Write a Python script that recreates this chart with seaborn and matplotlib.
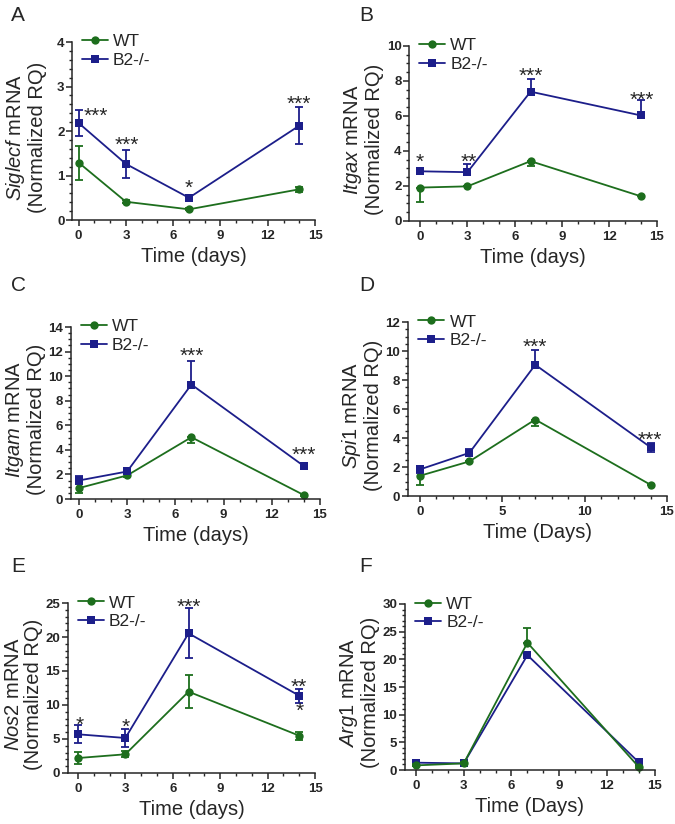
import matplotlib
matplotlib.use("Agg")
import matplotlib.pyplot as plt
import seaborn as sns
from matplotlib.ticker import MultipleLocator

sns.set_style("ticks")
plt.rcParams['font.family'] = ['Liberation Sans', 'DejaVu Sans']
plt.rcParams['mathtext.fontset'] = 'custom'
plt.rcParams['mathtext.rm'] = 'Liberation Sans'
plt.rcParams['mathtext.it'] = 'Liberation Sans:italic'

GREEN = '#1d6e1d'
BLUE = '#1c1e8a'
FIG_W, FIG_H = 675, 824

days = [0, 3, 7, 14]
groups = ['WT', 'B2-/-']

# A - Siglecf
siglecf_wt = [1.29, 0.41, 0.24, 0.69]
siglecf_wt_lo = [0.38, 0.03, 0.02, 0.06]
siglecf_wt_hi = [0.38, 0.03, 0.02, 0.06]
siglecf_ko = [2.18, 1.26, 0.50, 2.12]
siglecf_ko_lo = [0.30, 0.31, 0.06, 0.41]
siglecf_ko_hi = [0.30, 0.31, 0.06, 0.41]
siglecf_stars = ['***', '***', '*', '***']
siglecf_star_x = [1.1, 3.05, 7.0, 14.0]
siglecf_star_y = [2.48, 1.82, 0.86, 2.74]

# B - Itgax
itgax_wt = [1.91, 1.98, 3.42, 1.41]
itgax_wt_lo = [0.84, 0.0, 0.27, 0.0]
itgax_wt_hi = [0.0, 0.0, 0.0, 0.0]
itgax_ko = [2.84, 2.79, 7.39, 6.03]
itgax_ko_lo = [0.0, 0.0, 0.0, 0.0]
itgax_ko_hi = [0.0, 0.47, 0.75, 0.86]
itgax_stars = ['*', '**', '***', '***']
itgax_star_x = [0.0, 3.1, 7.0, 14.05]
itgax_star_y = [3.70, 3.70, 8.63, 7.25]

# C - Itgam
itgam_wt = [0.89, 1.92, 5.03, 0.32]
itgam_wt_lo = [0.36, 0.1, 0.43, 0.05]
itgam_wt_hi = [0.36, 0.1, 0.0, 0.05]
itgam_ko = [1.51, 2.24, 9.32, 2.68]
itgam_ko_lo = [0.3, 0.1, 0.0, 0.1]
itgam_ko_hi = [0.33, 0.1, 1.92, 0.1]
itgam_stars = ['***', '***']
itgam_star_x = [7.04, 14.0]
itgam_star_y = [12.19, 4.08]

# D - Spi1
spi1_wt = [1.40, 2.39, 5.28, 0.78]
spi1_wt_lo = [0.62, 0.05, 0.44, 0.05]
spi1_wt_hi = [0.62, 0.05, 0.0, 0.05]
spi1_ko = [1.84, 2.98, 9.06, 3.37]
spi1_ko_lo = [0.23, 0.2, 0.0, 0.3]
spi1_ko_hi = [0.23, 0.26, 1.04, 0.32]
spi1_stars = ['***', '***']
spi1_star_x = [6.97, 13.93]
spi1_star_y = [10.74, 4.31]

# E - Nos2
nos2_wt = [2.2, 2.75, 11.96, 5.49]
nos2_wt_lo = [0.85, 0.45, 2.4, 0.6]
nos2_wt_hi = [0.85, 0.45, 2.4, 0.6]
nos2_ko = [5.69, 5.15, 20.54, 11.37]
nos2_ko_lo = [1.35, 1.35, 3.7, 1.05]
nos2_ko_hi = [1.35, 1.35, 3.7, 1.05]
nos2_stars = ['*', '*', '***', '**', '*']
nos2_star_x = [0.1, 3.02, 7.0, 14.0, 14.0]
nos2_star_y = [7.94, 7.7, 25.4, 13.6, 10.05]

# F - Arg1
arg1_wt = [0.84, 1.2, 23.0, 0.54]
arg1_wt_lo = [0.2, 0.2, 0.0, 0.2]
arg1_wt_hi = [0.2, 0.2, 2.6, 0.2]
arg1_ko = [1.33, 1.2, 20.76, 1.39]
arg1_ko_lo = [0.0, 0.0, 0.0, 0.0]
arg1_ko_hi = [0.1, 0.1, 0.0, 0.1]

STAR_FS = 15


def draw_panel(ax, gene, xlabel, wt, wt_lo, wt_hi, ko, ko_lo, ko_hi,
               ymax, ystep, yminor, xmin, xstep, stars=(), sx=(), sy=(), wt_on_top=False):
    series = [(ko, ko_lo, ko_hi, BLUE, 's', groups[1]),
              (wt, wt_lo, wt_hi, GREEN, 'o', groups[0])]
    if not wt_on_top:
        series = series[::-1]
    for vals, lo, hi, col, mk, lab in series:
        ax.errorbar(days, vals, yerr=[lo, hi], fmt='none', ecolor=col,
                    elinewidth=1.3, capsize=2.8, capthick=1.3, clip_on=False)
        sns.lineplot(x=days, y=vals, color=col, marker=mk, markersize=6,
                     markeredgewidth=0, linewidth=1.3, label=lab, ax=ax,
                     clip_on=False)
    handles, labels = ax.get_legend_handles_labels()
    order = [labels.index(g) for g in groups]
    ax.legend([handles[i] for i in order], groups, loc='upper left',
              bbox_to_anchor=(0.04, 1.045), frameon=False, fontsize=12.5,
              handlelength=1.5, handletextpad=0.3, labelspacing=0.2,
              borderpad=0, borderaxespad=0)

    ax.set_xlim(xmin, 15)
    ax.set_ylim(0, ymax)
    ax.xaxis.set_major_locator(MultipleLocator(xstep))
    ax.xaxis.set_minor_locator(MultipleLocator(1))
    ax.yaxis.set_major_locator(MultipleLocator(ystep))
    ax.yaxis.set_minor_locator(MultipleLocator(yminor))
    ax.set_xticks(range(0, 16, xstep))
    ax.tick_params(which='major', length=4, width=1.1, labelsize=9.5)
    ax.tick_params(which='minor', length=2.4, width=1.0)
    ax.tick_params(axis='x', which='major', pad=3.5)
    ax.tick_params(axis='y', which='major', pad=1.5)
    for lab in ax.get_xticklabels() + ax.get_yticklabels():
        lab.set_fontweight('bold')
    for side in ['top', 'right']:
        ax.spines[side].set_visible(False)
    for side in ['left', 'bottom']:
        ax.spines[side].set_linewidth(1.1)

    ax.set_xlabel(xlabel, fontsize=14.5, labelpad=3)
    ax.set_ylabel('$\\mathit{' + gene + '}$ mRNA\n(Normalized RQ)', fontsize=14.5,
                  linespacing=1.05)
    # label sits a fixed distance left of the axis, as in the original layout
    ax_w = ax.get_position().width * FIG_W
    ax.yaxis.set_label_coords(-25.0 / ax_w, 0.465)

    for s, x, y in zip(stars, sx, sy):
        ax.annotate(s, (x, y), xytext=(0, -0.58 * STAR_FS), textcoords='offset points',
                    ha='center', va='baseline', fontsize=STAR_FS, annotation_clip=False)


fig = plt.figure(figsize=(6.75, 8.24), dpi=100)

axA = fig.add_axes([0.1067, 0.733, 0.360, 0.216])
draw_panel(axA, 'Siglecf', 'Time (days)', siglecf_wt, siglecf_wt_lo, siglecf_wt_hi,
           siglecf_ko, siglecf_ko_lo, siglecf_ko_hi, 4, 1, 0.2, -0.42, 3,
           siglecf_stars, siglecf_star_x, siglecf_star_y)

axB = fig.add_axes([0.606, 0.7318, 0.367, 0.2124])
draw_panel(axB, 'Itgax', 'Time (days)', itgax_wt, itgax_wt_lo, itgax_wt_hi,
           itgax_ko, itgax_ko_lo, itgax_ko_hi, 10, 2, 0.5, -0.7, 3,
           itgax_stars, itgax_star_x, itgax_star_y)

axC = fig.add_axes([0.105, 0.3944, 0.369, 0.2087])
draw_panel(axC, 'Itgam', 'Time (days)', itgam_wt, itgam_wt_lo, itgam_wt_hi,
           itgam_ko, itgam_ko_lo, itgam_ko_hi, 14, 2, 0.5, -0.5, 3,
           itgam_stars, itgam_star_x, itgam_star_y)

axD = fig.add_axes([0.6044, 0.398, 0.3837, 0.211])
draw_panel(axD, 'Spi1', 'Time (Days)', spi1_wt, spi1_wt_lo, spi1_wt_hi,
           spi1_ko, spi1_ko_lo, spi1_ko_hi, 12, 2, 0.5, -0.73, 5,
           spi1_stars, spi1_star_x, spi1_star_y)

axE = fig.add_axes([0.1007, 0.0619, 0.366, 0.2063])
draw_panel(axE, 'Nos2', 'Time (days)', nos2_wt, nos2_wt_lo, nos2_wt_hi,
           nos2_ko, nos2_ko_lo, nos2_ko_hi, 25, 5, 1, -0.63, 3,
           nos2_stars, nos2_star_x, nos2_star_y)

axF = fig.add_axes([0.600, 0.0655, 0.370, 0.2015])
draw_panel(axF, 'Arg1', 'Time (Days)', arg1_wt, arg1_wt_lo, arg1_wt_hi,
           arg1_ko, arg1_ko_lo, arg1_ko_hi, 30, 5, 1, -0.69, 3, wt_on_top=True)

# panel letters
for letter, px, py in [('A', 11, 6), ('B', 359, 6), ('C', 11, 276),
                       ('D', 359, 276), ('E', 11, 557), ('F', 359, 557)]:
    fig.text(px / FIG_W, 1 - py / FIG_H, letter, fontsize=15, ha='left', va='top')

fig.savefig('out.png', dpi=100)
